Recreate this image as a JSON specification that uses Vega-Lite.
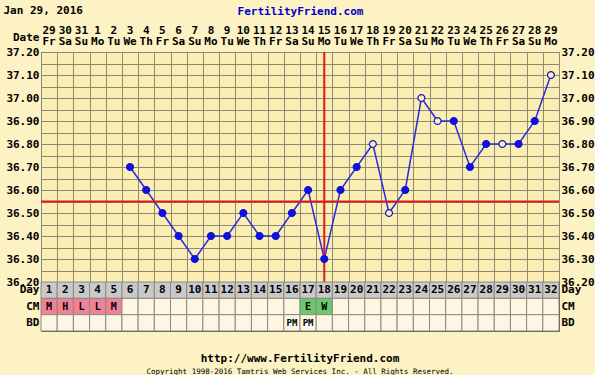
{
  "$schema": "https://vega.github.io/schema/vega-lite/v6.json",
  "background": "#fcf2c3",
  "padding": {"left": 3, "top": 4, "right": 0, "bottom": 0},
  "spacing": 0,
  "bounds": "flush",
  "resolve": {"scale": {"fill": "independent"}},
  "config": {
    "font": "DejaVu Sans Mono",
    "axis": {"labelFont": "DejaVu Sans Mono", "labelFontWeight": "bold", "labelFontSize": 11, "labelColor": "#000000", "titleColor": "#000000", "titleFont": "DejaVu Sans Mono", "titleFontWeight": "bold", "titleFontSize": 11, "ticks": false, "domain": false, "labelPadding": 2},
    "text": {"font": "DejaVu Sans Mono", "fontWeight": "bold", "fontSize": 11, "color": "#000000"},
    "title": {"font": "DejaVu Sans Mono", "color": "#000000"}
  },
  "datasets": {
    "days": [
      {"day": 1, "date": "29", "wd": "Fr", "cm": "M", "bd": ""},
      {"day": 2, "date": "30", "wd": "Sa", "cm": "H", "bd": ""},
      {"day": 3, "date": "31", "wd": "Su", "cm": "L", "bd": ""},
      {"day": 4, "date": "1", "wd": "Mo", "cm": "L", "bd": ""},
      {"day": 5, "date": "2", "wd": "Tu", "cm": "M", "bd": ""},
      {"day": 6, "date": "3", "wd": "We", "cm": "", "bd": ""},
      {"day": 7, "date": "4", "wd": "Th", "cm": "", "bd": ""},
      {"day": 8, "date": "5", "wd": "Fr", "cm": "", "bd": ""},
      {"day": 9, "date": "6", "wd": "Sa", "cm": "", "bd": ""},
      {"day": 10, "date": "7", "wd": "Su", "cm": "", "bd": ""},
      {"day": 11, "date": "8", "wd": "Mo", "cm": "", "bd": ""},
      {"day": 12, "date": "9", "wd": "Tu", "cm": "", "bd": ""},
      {"day": 13, "date": "10", "wd": "We", "cm": "", "bd": ""},
      {"day": 14, "date": "11", "wd": "Th", "cm": "", "bd": ""},
      {"day": 15, "date": "12", "wd": "Fr", "cm": "", "bd": ""},
      {"day": 16, "date": "13", "wd": "Sa", "cm": "", "bd": "PM"},
      {"day": 17, "date": "14", "wd": "Su", "cm": "E", "bd": "PM"},
      {"day": 18, "date": "15", "wd": "Mo", "cm": "W", "bd": ""},
      {"day": 19, "date": "16", "wd": "Tu", "cm": "", "bd": ""},
      {"day": 20, "date": "17", "wd": "We", "cm": "", "bd": ""},
      {"day": 21, "date": "18", "wd": "Th", "cm": "", "bd": ""},
      {"day": 22, "date": "19", "wd": "Fr", "cm": "", "bd": ""},
      {"day": 23, "date": "20", "wd": "Sa", "cm": "", "bd": ""},
      {"day": 24, "date": "21", "wd": "Su", "cm": "", "bd": ""},
      {"day": 25, "date": "22", "wd": "Mo", "cm": "", "bd": ""},
      {"day": 26, "date": "23", "wd": "Tu", "cm": "", "bd": ""},
      {"day": 27, "date": "24", "wd": "We", "cm": "", "bd": ""},
      {"day": 28, "date": "25", "wd": "Th", "cm": "", "bd": ""},
      {"day": 29, "date": "26", "wd": "Fr", "cm": "", "bd": ""},
      {"day": 30, "date": "27", "wd": "Sa", "cm": "", "bd": ""},
      {"day": 31, "date": "28", "wd": "Su", "cm": "", "bd": ""},
      {"day": 32, "date": "29", "wd": "Mo", "cm": "", "bd": ""}
    ],
    "temps": [
      {"day": 6, "temp": 36.7, "kind": "filled"},
      {"day": 7, "temp": 36.6, "kind": "filled"},
      {"day": 8, "temp": 36.5, "kind": "filled"},
      {"day": 9, "temp": 36.4, "kind": "filled"},
      {"day": 10, "temp": 36.3, "kind": "filled"},
      {"day": 11, "temp": 36.4, "kind": "filled"},
      {"day": 12, "temp": 36.4, "kind": "filled"},
      {"day": 13, "temp": 36.5, "kind": "filled"},
      {"day": 14, "temp": 36.4, "kind": "filled"},
      {"day": 15, "temp": 36.4, "kind": "filled"},
      {"day": 16, "temp": 36.5, "kind": "filled"},
      {"day": 17, "temp": 36.6, "kind": "filled"},
      {"day": 18, "temp": 36.3, "kind": "filled"},
      {"day": 19, "temp": 36.6, "kind": "filled"},
      {"day": 20, "temp": 36.7, "kind": "filled"},
      {"day": 21, "temp": 36.8, "kind": "open"},
      {"day": 22, "temp": 36.5, "kind": "open"},
      {"day": 23, "temp": 36.6, "kind": "filled"},
      {"day": 24, "temp": 37.0, "kind": "open"},
      {"day": 25, "temp": 36.9, "kind": "open"},
      {"day": 26, "temp": 36.9, "kind": "filled"},
      {"day": 27, "temp": 36.7, "kind": "filled"},
      {"day": 28, "temp": 36.8, "kind": "filled"},
      {"day": 29, "temp": 36.8, "kind": "open"},
      {"day": 30, "temp": 36.8, "kind": "filled"},
      {"day": 31, "temp": 36.9, "kind": "filled"},
      {"day": 32, "temp": 37.1, "kind": "open"}
    ],
    "lines": [{"ovulation": 18, "coverline": 36.55}]
  },
  "vconcat": [
    {
      "width": 518,
      "height": 30,
      "data": {"name": "days"},
      "view": {"stroke": null},
      "layer": [
        {
          "mark": {"type": "text", "baseline": "middle", "dy": -6.5},
          "encoding": {
            "x": {"field": "day", "type": "quantitative", "scale": {"domain": [0.5, 32.5], "nice": false, "zero": false},
              "axis": {"orient": "top", "title": "FertilityFriend.com", "labels": false, "grid": false, "titleColor": "#0000cc", "titlePadding": 6}},
            "y": {"datum": "Date", "type": "nominal",
              "axis": {"title": "Jan 29, 2016", "titleAngle": 0, "titleAlign": "left", "titleBaseline": "middle", "titleX": -38, "titleY": -12}},
            "text": {"field": "date"}
          }
        },
        {
          "mark": {"type": "text", "baseline": "middle", "dy": 5},
          "encoding": {
            "x": {"field": "day", "type": "quantitative", "scale": {"domain": [0.5, 32.5], "nice": false, "zero": false},
              "axis": {"orient": "top", "title": "FertilityFriend.com", "labels": false, "grid": false, "titleColor": "#0000cc", "titlePadding": 6}},
            "y": {"datum": "Date", "type": "nominal",
              "axis": {"title": "Jan 29, 2016", "titleAngle": 0, "titleAlign": "left", "titleBaseline": "middle", "titleX": -38, "titleY": -12}},
            "text": {"field": "wd"}
          }
        }
      ]
    },
    {
      "width": 518,
      "height": 230,
      "data": {"name": "temps"},
      "view": {"fill": "#faeeb2", "stroke": "#3a3a30", "strokeWidth": 1},
      "layer": [
        {
          "mark": {"type": "line", "color": "#2a2ae0", "strokeWidth": 1.5},
          "encoding": {
            "x": {"field": "day", "type": "quantitative", "scale": {"domain": [0.5, 32.5], "nice": false, "zero": false},
              "axis": {"values": [0.5, 1.5, 2.5, 3.5, 4.5, 5.5, 6.5, 7.5, 8.5, 9.5, 10.5, 11.5, 12.5, 13.5, 14.5, 15.5, 16.5, 17.5, 18.5, 19.5, 20.5, 21.5, 22.5, 23.5, 24.5, 25.5, 26.5, 27.5, 28.5, 29.5, 30.5, 31.5, 32.5], "labels": false, "title": null, "grid": true, "gridColor": "#8f8a78", "gridOpacity": 1, "gridWidth": 1}},
            "y": {"field": "temp", "type": "quantitative", "scale": {"domain": [36.2, 37.2], "nice": false, "zero": false},
              "axis": {"orient": "left", "title": null, "values": [36.2, 36.25, 36.3, 36.35, 36.4, 36.45, 36.5, 36.55, 36.6, 36.65, 36.7, 36.75, 36.8, 36.85, 36.9, 36.95, 37.0, 37.05, 37.1, 37.15, 37.2], "labelExpr": "abs(round(datum.value*100) % 10) == 0 ? format(datum.value, '.2f') : ''", "grid": true, "gridColor": "#8f8a78", "gridOpacity": 1, "gridWidth": 1}}
          }
        },
        {
          "data": {"name": "lines"},
          "mark": {"type": "rule", "color": "#e01818", "strokeWidth": 2},
          "encoding": {
            "x": {"field": "ovulation", "type": "quantitative", "scale": {"domain": [0.5, 32.5], "nice": false, "zero": false},
              "axis": {"values": [0.5, 1.5, 2.5, 3.5, 4.5, 5.5, 6.5, 7.5, 8.5, 9.5, 10.5, 11.5, 12.5, 13.5, 14.5, 15.5, 16.5, 17.5, 18.5, 19.5, 20.5, 21.5, 22.5, 23.5, 24.5, 25.5, 26.5, 27.5, 28.5, 29.5, 30.5, 31.5, 32.5], "labels": false, "title": null, "grid": true, "gridColor": "#8f8a78", "gridOpacity": 1, "gridWidth": 1}}
          }
        },
        {
          "data": {"name": "lines"},
          "mark": {"type": "rule", "color": "#e01818", "strokeWidth": 2},
          "encoding": {
            "y": {"field": "coverline", "type": "quantitative", "scale": {"domain": [36.2, 37.2], "nice": false, "zero": false}, "axis": null}
          }
        },
        {
          "mark": {"type": "circle", "size": 48, "stroke": "#1010e0", "strokeWidth": 1.2, "opacity": 1},
          "encoding": {
            "x": {"field": "day", "type": "quantitative", "scale": {"domain": [0.5, 32.5], "nice": false, "zero": false},
              "axis": {"values": [0.5, 1.5, 2.5, 3.5, 4.5, 5.5, 6.5, 7.5, 8.5, 9.5, 10.5, 11.5, 12.5, 13.5, 14.5, 15.5, 16.5, 17.5, 18.5, 19.5, 20.5, 21.5, 22.5, 23.5, 24.5, 25.5, 26.5, 27.5, 28.5, 29.5, 30.5, 31.5, 32.5], "labels": false, "title": null, "grid": true, "gridColor": "#8f8a78", "gridOpacity": 1, "gridWidth": 1}},
            "y": {"field": "temp", "type": "quantitative", "scale": {"domain": [36.2, 37.2], "nice": false, "zero": false},
              "axis": {"orient": "right", "title": null, "values": [36.2, 36.3, 36.4, 36.5, 36.6, 36.7, 36.8, 36.9, 37.0, 37.1, 37.2], "format": ".2f", "grid": false}},
            "fill": {"field": "kind", "type": "nominal", "scale": {"domain": ["filled", "open"], "range": ["#1010e0", "#faeeb2"]}, "legend": null}
          }
        }
      ],
      "resolve": {"axis": {"y": "independent"}}
    },
    {
      "width": 518,
      "height": 49,
      "data": {"name": "days"},
      "view": {"stroke": "#555555"},
      "title": {"text": "http://www.FertilityFriend.com", "subtitle": "Copyright 1998-2016 Tamtris Web Services Inc. - All Rights Reserved.", "orient": "bottom", "anchor": "middle", "offset": 21, "font": "DejaVu Sans Mono", "fontSize": 11, "fontWeight": "bold", "color": "#000000", "subtitleFont": "DejaVu Sans Mono", "subtitleFontSize": 7.5, "subtitleColor": "#000000", "subtitlePadding": 4},
      "layer": [
        {
          "mark": {"type": "rect", "fill": "#c9c9c9", "stroke": "#8a8a80", "strokeWidth": 1},
          "encoding": {
            "x": {"field": "day", "type": "ordinal", "scale": {"type": "band", "paddingInner": 0, "paddingOuter": 0}, "axis": null},
            "y": {"datum": "Day", "type": "nominal", "scale": {"type": "band", "domain": ["Day", "CM", "BD"], "paddingInner": 0, "paddingOuter": 0}, "axis": {"orient": "left", "title": null}}
          }
        },
        {
          "mark": {"type": "rect", "stroke": "#8a8a80", "strokeWidth": 1},
          "encoding": {
            "x": {"field": "day", "type": "ordinal", "scale": {"type": "band", "paddingInner": 0, "paddingOuter": 0}, "axis": null},
            "y": {"datum": "CM", "type": "nominal", "scale": {"type": "band", "domain": ["Day", "CM", "BD"], "paddingInner": 0, "paddingOuter": 0}, "axis": {"orient": "right", "title": null}},
            "fill": {"field": "cm", "type": "nominal", "scale": {"domain": ["M", "H", "L", "E", "W", ""], "range": ["#f08296", "#f08296", "#f08296", "#6cc86c", "#6cc86c", "#fdf6e2"]}, "legend": null}
          }
        },
        {
          "mark": {"type": "rect", "fill": "#fdf6e2", "stroke": "#8a8a80", "strokeWidth": 1},
          "encoding": {
            "x": {"field": "day", "type": "ordinal", "scale": {"type": "band", "paddingInner": 0, "paddingOuter": 0}, "axis": null},
            "y": {"datum": "BD", "type": "nominal", "scale": {"type": "band", "domain": ["Day", "CM", "BD"], "paddingInner": 0, "paddingOuter": 0}, "axis": null}
          }
        },
        {
          "mark": {"type": "text", "baseline": "middle"},
          "encoding": {
            "x": {"field": "day", "type": "ordinal", "scale": {"type": "band", "paddingInner": 0, "paddingOuter": 0}, "axis": null},
            "y": {"datum": "Day", "type": "nominal", "scale": {"type": "band", "domain": ["Day", "CM", "BD"], "paddingInner": 0, "paddingOuter": 0}, "axis": null},
            "text": {"field": "day"}
          }
        },
        {
          "mark": {"type": "text", "baseline": "middle", "fontSize": 10},
          "encoding": {
            "x": {"field": "day", "type": "ordinal", "scale": {"type": "band", "paddingInner": 0, "paddingOuter": 0}, "axis": null},
            "y": {"datum": "CM", "type": "nominal", "scale": {"type": "band", "domain": ["Day", "CM", "BD"], "paddingInner": 0, "paddingOuter": 0}, "axis": null},
            "text": {"field": "cm"}
          }
        },
        {
          "mark": {"type": "text", "baseline": "middle", "fontSize": 9},
          "encoding": {
            "x": {"field": "day", "type": "ordinal", "scale": {"type": "band", "paddingInner": 0, "paddingOuter": 0}, "axis": null},
            "y": {"datum": "BD", "type": "nominal", "scale": {"type": "band", "domain": ["Day", "CM", "BD"], "paddingInner": 0, "paddingOuter": 0}, "axis": null},
            "text": {"field": "bd"}
          }
        }
      ],
      "resolve": {"axis": {"y": "independent"}}
    }
  ]
}
